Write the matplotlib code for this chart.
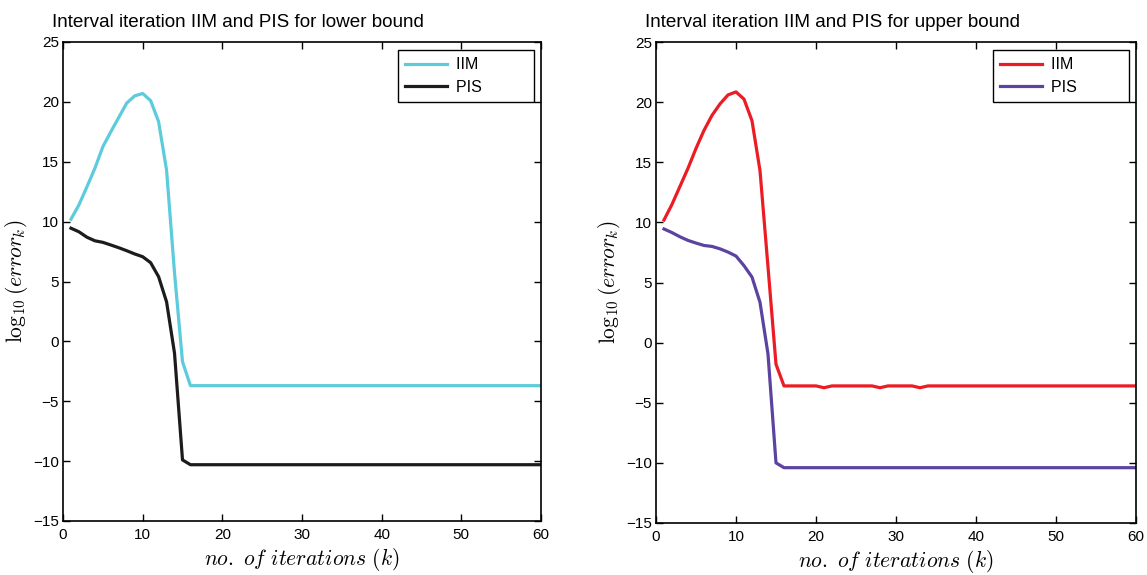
import numpy as np
import matplotlib
matplotlib.use("Agg")
import matplotlib.pyplot as plt

plt.rcParams['font.family'] = ['Liberation Sans', 'DejaVu Sans']
plt.rcParams['mathtext.fontset'] = 'cm'

k = np.arange(1, 61)

# lower bound
iim_lower_head = [10.2, 11.4, 12.9, 14.45, 16.25, 17.5, 18.7, 19.9, 20.5, 20.7,
                  20.1, 18.35, 14.3, 5.7, -1.7, -3.7]
pis_lower_head = [9.45, 9.15, 8.7, 8.4, 8.27, 8.05, 7.82, 7.57, 7.3, 7.07,
                  6.57, 5.4, 3.3, -1.0, -9.9, -10.3]
iim_lower = iim_lower_head + [-3.7] * (60 - 16)
pis_lower = pis_lower_head + [-10.3] * (60 - 16)

# upper bound
iim_upper_head = [10.2, 11.5, 13.0, 14.5, 16.15, 17.65, 18.9, 19.85, 20.6, 20.85,
                  20.25, 18.45, 14.3, 6.3, -1.8, -3.6]
pis_upper_head = [9.45, 9.15, 8.8, 8.5, 8.28, 8.08, 8.0, 7.8, 7.53, 7.2,
                  6.4, 5.45, 3.35, -0.95, -10.0, -10.4]
iim_upper = iim_upper_head + [-3.6] * (60 - 16)
iim_upper[20] = -3.75   # k=21
iim_upper[27] = -3.75   # k=28
iim_upper[32] = -3.75   # k=33
pis_upper = pis_upper_head + [-10.4] * (60 - 16)

titles = ["Interval iteration IIM and PIS for lower bound",
          "Interval iteration IIM and PIS for upper bound"]
xticks = [0, 10, 20, 30, 40, 50, 60]
yticks = [-15, -10, -5, 0, 5, 10, 15, 20, 25]

fig = plt.figure(figsize=(11.47, 5.75), dpi=100)
ax1 = fig.add_axes([63/1147, 1 - 521/575, (541-63)/1147, (521-42)/575])
ax2 = fig.add_axes([656/1147, 1 - 523/575, (1136-656)/1147, (523-42)/575])

series = [
    (ax1, iim_lower, pis_lower, '#5ccbdb', '#1c1c1c', titles[0], 52),
    (ax2, iim_upper, pis_upper, '#ec1c24', '#5c43a0', titles[1], 645),
]

for ax, iim, pis, c1, c2, title, tx in series:
    ax.plot(k, iim, color=c1, lw=2.3, label='IIM' + '\u2007' * 5)
    ax.plot(k, pis, color=c2, lw=2.3, label='PIS' + '\u2007' * 5)
    ax.set_xlim(0, 60)
    ax.set_ylim(-15, 25)
    ax.set_xticks(xticks)
    ax.set_yticks(yticks)
    ax.tick_params(direction='in', top=True, right=True, length=5,
                   labelsize=11, width=1)
    ax.tick_params(axis='x', pad=5)
    ax.tick_params(axis='y', pad=3)
    for s in ax.spines.values():
        s.set_linewidth(1.2)
    ax.set_xlabel(r'$no.\ of\ iterations\ (k)$', fontsize=15.5, labelpad=3)
    ax.set_ylabel(r'$\log_{10}(error_k)$', fontsize=15.5, labelpad=2)
    leg = ax.legend(loc='upper right', fontsize=11.5, fancybox=False,
                    framealpha=1, edgecolor='black', handlelength=2.6,
                    labelspacing=0.45, borderpad=0.45, handletextpad=0.6,
                    bbox_to_anchor=(0.985, 0.983), borderaxespad=0)
    leg.get_frame().set_linewidth(1.0)
    fig.text(tx/1147, 1 - 27/575, title, fontsize=13.6, va='baseline', ha='left')

fig.savefig("out.png", dpi=100)
